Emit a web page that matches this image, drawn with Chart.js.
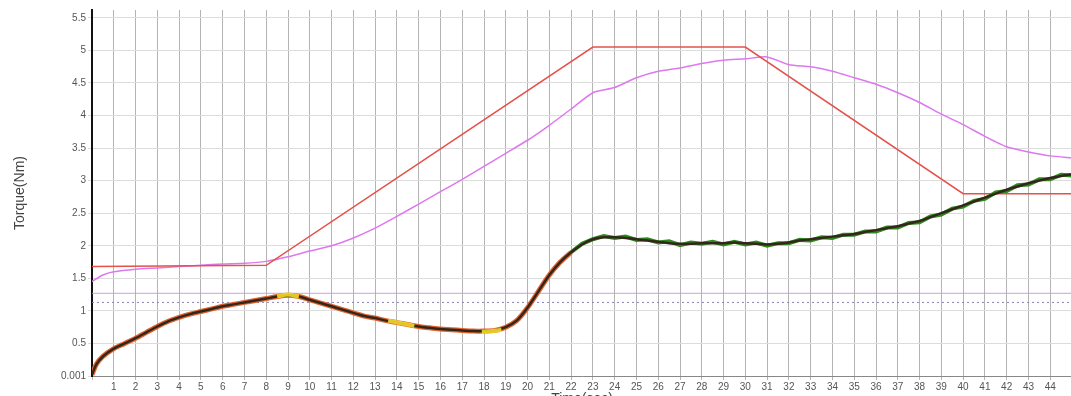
<!DOCTYPE html>
<html>
<head>
<meta charset="utf-8">
<script src="https://cdn.jsdelivr.net/npm/chart.js@4.4.1/dist/chart.umd.min.js"></script>
<style>
  html, body { margin: 0; padding: 0; background: #fff; overflow: hidden; }
  #wrap { position: relative; width: 1073px; height: 410px; }
</style>
</head>
<body>
<div id="wrap"><canvas id="torqueChart"></canvas></div>
<script>
// Setpoint (red trapezoid)
const setX = [0, 8, 23, 30, 40, 45];
const setY = [1.68, 1.7, 5.05, 5.05, 2.8, 2.8];

// Magenta curve
const magX = [0, 0.5, 1, 2, 3, 4, 5, 6, 7, 8, 9, 10, 11, 12, 13, 14, 15, 16, 17, 18, 19, 20, 21, 22, 23,
  24, 25, 26, 27, 28, 29, 30, 31, 32, 33, 34, 35, 36, 37, 38, 39, 40, 41, 42, 43, 44, 45];
const magY = [1.45, 1.55, 1.6, 1.64, 1.66, 1.68, 1.7, 1.72, 1.73, 1.76, 1.83, 1.92, 2.0, 2.12, 2.27, 2.45, 2.64, 2.83, 3.02, 3.22, 3.42, 3.62, 3.85, 4.1, 4.35,
  4.43, 4.58, 4.68, 4.73, 4.8, 4.85, 4.87, 4.9, 4.78, 4.75, 4.68, 4.58, 4.48, 4.35, 4.2, 4.02, 3.86, 3.68, 3.52, 3.44, 3.38, 3.35];

// Measured torque (main curve)
const torqueX = [0, 0.2, 0.5, 1, 1.5, 2, 2.5, 3, 3.5, 4, 4.5, 5, 5.5, 6, 6.5, 7, 7.5, 8, 8.5, 9, 9.5, 10, 10.5, 11, 11.5,
  12, 12.5, 13, 13.5, 14, 14.5, 15, 15.5, 16, 16.5, 17, 17.5, 18, 18.5, 19, 19.5, 20, 20.5, 21, 21.5, 22, 22.5,
  23, 23.5, 24, 24.5, 25, 25.5, 26, 26.5, 27, 27.5, 28, 28.5, 29, 29.5, 30, 30.5, 31, 31.5, 32, 32.5, 33, 33.5,
  34, 34.5, 35, 35.5, 36, 36.5, 37, 37.5, 38, 38.5, 39, 39.5, 40, 40.5, 41, 41.5, 42, 42.5, 43, 43.5, 44, 44.5, 45];
const torqueY = [0.02, 0.18, 0.3, 0.42, 0.5, 0.58, 0.67, 0.76, 0.84, 0.9, 0.95, 0.99, 1.03, 1.07, 1.1, 1.13, 1.16, 1.19, 1.22, 1.24, 1.22, 1.17, 1.12, 1.07, 1.02,
  0.97, 0.92, 0.89, 0.85, 0.82, 0.79, 0.76, 0.74, 0.72, 0.71, 0.7, 0.69, 0.69, 0.7, 0.75, 0.85, 1.05, 1.3, 1.55, 1.75, 1.9, 2.02,
  2.1, 2.13, 2.13, 2.12, 2.1, 2.08, 2.06, 2.04, 2.03, 2.03, 2.04, 2.04, 2.04, 2.05, 2.04, 2.03, 2.02, 2.03, 2.05, 2.08, 2.1, 2.12,
  2.14, 2.16, 2.18, 2.21, 2.24, 2.27, 2.3, 2.34, 2.38, 2.44, 2.5, 2.56, 2.62, 2.68, 2.74, 2.8, 2.86, 2.91, 2.96, 3.0, 3.04, 3.07, 3.1];

// Noisy green trace (second half)
const greenX = [22, 22.5, 23, 23.5, 24, 24.5, 25, 25.5, 26, 26.5, 27, 27.5, 28, 28.5, 29, 29.5, 30, 30.5, 31, 31.5, 32, 32.5,
  33, 33.5, 34, 34.5, 35, 35.5, 36, 36.5, 37, 37.5, 38, 38.5, 39, 39.5, 40, 40.5, 41, 41.5, 42, 42.5, 43, 43.5, 44, 44.5, 45];
const greenY = [1.9, 2.03, 2.1, 2.15, 2.12, 2.14, 2.09, 2.1, 2.05, 2.07, 2.01, 2.05, 2.03, 2.06, 2.02, 2.06, 2.02, 2.05, 2.0, 2.04, 2.04, 2.09,
  2.08, 2.13, 2.12, 2.17, 2.17, 2.22, 2.22, 2.28, 2.28, 2.35, 2.36, 2.45, 2.48, 2.57, 2.6, 2.69, 2.72, 2.82, 2.84, 2.93, 2.94, 3.02, 3.02, 3.09, 3.08];

// Yellow highlights on the first half
const yellowX = [8.5, 9.0, 9.5, 9.6, 13.6, 14.2, 14.8, 14.9, 17.9, 18.4, 18.8];
const yellowY = [1.22, 1.25, 1.22, null, 0.85, 0.81, 0.77, null, 0.68, 0.69, 0.71];

// Limit lines
const limitX = [0, 45];
const upperLimit = [1.27, 1.27];
const lowerLimit = [1.13, 1.13];

// Tick values
const xTicks = [0, 1, 2, 3, 4, 5, 6, 7, 8, 9, 10, 11, 12, 13, 14, 15, 16, 17, 18, 19, 20, 21, 22,
  23, 24, 25, 26, 27, 28, 29, 30, 31, 32, 33, 34, 35, 36, 37, 38, 39, 40, 41, 42, 43, 44, 45];
const yTicks = [0, 0.5, 1, 1.5, 2, 2.5, 3, 3.5, 4, 4.5, 5, 5.5];

function pts(xs, ys) {
  return xs.map((x, i) => ({ x: x, y: ys[i] }));
}

const ctx = document.getElementById('torqueChart');
new Chart(ctx, {
  type: 'line',
  data: {
    datasets: [
      {
        label: 'Yellow',
        data: pts(yellowX, yellowY),
        borderColor: 'rgba(240,220,40,0.9)',
        borderWidth: 4,
        pointRadius: 0,
        tension: 0.3,
        spanGaps: false
      },
      {
        label: 'Torque',
        data: pts(torqueX, torqueY),
        borderColor: '#33261a',
        borderWidth: 2.5,
        pointRadius: 0,
        tension: 0.3
      },
      {
        label: 'Torque green',
        data: pts(greenX, greenY),
        borderColor: '#2f8a1e',
        borderWidth: 4,
        pointRadius: 0,
        tension: 0
      },
      {
        label: 'Torque early',
        data: pts(torqueX.slice(0, 46), torqueY.slice(0, 46)),
        borderColor: '#e0622e',
        borderWidth: 5,
        pointRadius: 0,
        tension: 0.3
      },
      {
        label: 'Setpoint',
        data: pts(setX, setY),
        borderColor: '#e5514b',
        borderWidth: 1.5,
        pointRadius: 0,
        tension: 0
      },
      {
        label: 'Magenta',
        data: pts(magX, magY),
        borderColor: '#dd78ef',
        borderWidth: 1.5,
        pointRadius: 0,
        tension: 0.2
      },
      {
        label: 'Upper',
        data: pts(limitX, upperLimit),
        borderColor: 'rgba(200,150,220,0.9)',
        borderWidth: 1,
        pointRadius: 0
      },
      {
        label: 'Lower',
        data: pts(limitX, lowerLimit),
        borderColor: '#8a80b8',
        borderWidth: 1,
        borderDash: [2, 3],
        pointRadius: 0
      }
    ]
  },
  options: {
    responsive: true,
    maintainAspectRatio: false,
    animation: false,
    layout: { padding: { top: 10, right: 0, left: 0, bottom: 0 } },
    plugins: {
      legend: { display: false },
      tooltip: { enabled: false }
    },
    scales: {
      x: {
        type: 'linear',
        min: 0,
        max: 45,
        grid: {
          color: '#b4b4b4',
          tickLength: 4
        },
        border: { color: '#888', width: 1 },
        afterBuildTicks: function (scale) {
          scale.ticks = xTicks.map(v => ({ value: v }));
        },
        ticks: {
          autoSkip: false,
          maxRotation: 0,
          padding: 1,
          color: '#555',
          font: { family: 'Liberation Sans', size: 10 },
          callback: function (v) {
            return (v >= 1 && v <= 44) ? String(v) : '';
          }
        },
        title: {
          display: true,
          text: 'Time(sec)',
          color: '#444',
          font: { family: 'Liberation Sans', size: 14 },
          padding: { top: 0, bottom: 2 }
        },
        afterFit: function (scale) { scale.height = 34; }
      },
      y: {
        type: 'linear',
        min: 0,
        max: 5.62,
        grid: {
          color: '#dcdcdc',
          tickLength: 4
        },
        border: { color: '#111', width: 2 },
        afterBuildTicks: function (scale) {
          scale.ticks = yTicks.map(v => ({ value: v }));
        },
        ticks: {
          padding: 2,
          color: '#555',
          font: { family: 'Liberation Sans', size: 10 },
          callback: function (v) {
            return v === 0 ? '0.001' : String(v);
          }
        },
        title: {
          display: true,
          text: 'Torque(Nm)',
          color: '#444',
          font: { family: 'Liberation Sans', size: 14 },
          padding: { top: 12, bottom: 0 }
        },
        afterFit: function (scale) { scale.width = 92; }
      }
    }
  }
});
</script>
</body>
</html>
